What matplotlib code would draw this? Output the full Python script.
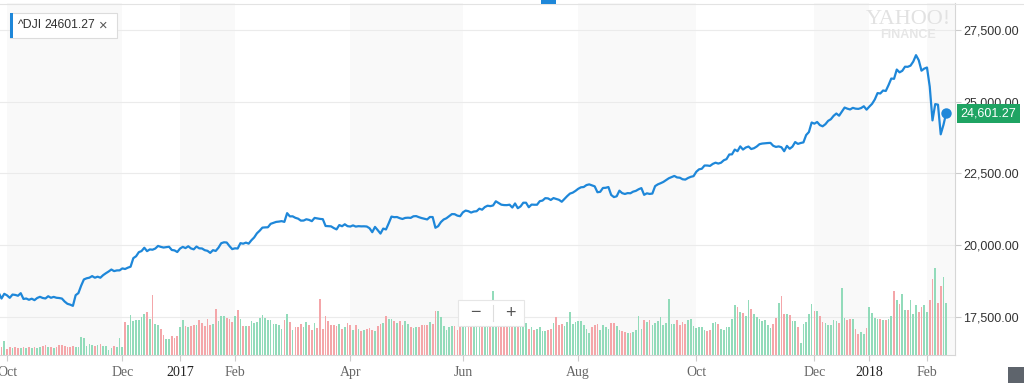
import numpy as np
import pandas as pd
import matplotlib
matplotlib.use("Agg")
import matplotlib.pyplot as plt
from matplotlib.patches import Rectangle
from matplotlib.lines import Line2D
from matplotlib.transforms import blended_transform_factory

plt.rcParams["font.family"] = ["Liberation Sans", "DejaVu Sans"]

# NYSE holidays inside the shown range
holidays = ["2016-11-24", "2016-12-26", "2017-01-02", "2017-01-16", "2017-02-20",
            "2017-04-14", "2017-05-29", "2017-07-04", "2017-09-04", "2017-11-23",
            "2017-12-25", "2018-01-01", "2018-01-15"]

# ^DJI daily close, 2016-09-28 .. 2018-02-12
closes = [
    18339, 18143, 18308,
    18254, 18168, 18281, 18269, 18240, 18329, 18128, 18144, 18099, 18138,
    18087, 18162, 18203, 18162, 18145, 18223, 18169, 18200, 18170, 18161, 18142,
    18037, 17960, 17931, 17888, 18260, 18332, 18590, 18808, 18848, 18869,
    18924, 18868, 18904, 18868, 18957, 19024, 19084, 19153, 19098, 19122, 19124,
    19192, 19171, 19217, 19252, 19549, 19615, 19757, 19797, 19912, 19793,
    19853, 19843, 19884, 19975, 19942, 19919, 19934, 19946, 19834, 19819, 19763,
    19882, 19942, 19899, 19964, 19887, 19856, 19954, 19891, 19886, 19827,
    19804, 19732, 19827, 19800, 19913, 20069, 20101, 20094, 19971, 19864,
    19891, 19885, 20071, 20053, 20090, 20054, 20173, 20269, 20413, 20504,
    20612, 20620, 20624, 20744, 20776, 20811, 20822, 20838, 20812,
    21116, 21003, 21006, 20954, 20924, 20856, 20858, 20903, 20881, 20837,
    20950, 20934, 20915, 20906, 20669, 20661, 20656, 20597, 20551, 20701, 20660, 20729, 20663,
    20650, 20690, 20648, 20663, 20656, 20658, 20651, 20592, 20453, 20637,
    20524, 20405, 20579, 20548, 20764, 20996, 20976, 20981, 20941,
    20913, 20950, 20958, 20951, 21007, 21013, 20975, 20944, 20919, 20897,
    20982, 20980, 20607, 20663, 20805, 20895, 20938, 21012, 21083, 21080, 21029, 21009,
    21144, 21206, 21184, 21136, 21173, 21183, 21272, 21236, 21328, 21375,
    21360, 21384, 21529, 21468, 21411, 21397, 21395, 21410, 21311, 21454, 21288, 21350,
    21479, 21479, 21321, 21414, 21409, 21409, 21533, 21554, 21638, 21630,
    21575, 21641, 21612, 21580, 21513, 21613, 21711, 21797, 21830, 21891,
    21964, 22016, 22026, 22093, 22118, 22085, 22049, 21844, 21858, 21993,
    21999, 22025, 21750, 21675, 21703, 21899, 21813, 21784, 21814, 21808, 21865, 21892, 21948,
    21988, 21753, 21807, 21785, 21798, 22057, 22119, 22158, 22203, 22268,
    22331, 22370, 22412, 22359, 22350, 22296, 22284, 22341, 22381, 22405,
    22557, 22642, 22662, 22775, 22774, 22761, 22831, 22873, 22842, 22872,
    22957, 22997, 23158, 23164, 23329, 23274, 23441, 23330, 23401, 23435, 23349, 23377,
    23436, 23517, 23539, 23549, 23557, 23563, 23462, 23422, 23440, 23410,
    23272, 23458, 23358, 23431, 23591, 23527, 23558, 23580, 23836, 23940, 24272,
    24232, 24290, 24181, 24140, 24212, 24329, 24387, 24505, 24585, 24509,
    24652, 24792, 24754, 24726, 24782, 24754, 24746, 24775, 24838, 24719,
    24825, 24922, 25075, 25296, 25283, 25386, 25370, 25575, 25803, 25793,
    26116, 26018, 26072, 26215, 26211, 26252, 26393, 26617, 26440, 26077, 26149,
    26187, 25521, 24346, 24913, 24893, 23861, 24191, 24601.27,
]

# volume, millions
volumes = [
    80, 80, 140,
    60, 80, 70, 80, 70, 70, 80, 70, 80, 70, 80, 70, 80, 90, 100, 80, 80, 70, 80, 100,
    100, 90, 80, 80, 90, 80, 80, 180, 170, 90, 110, 100, 90, 100, 110, 90, 90, 50, 70, 90,
    80, 170,
    80, 330, 300, 400, 340, 350, 350, 380, 410, 430, 360, 600, 310, 300, 260, 200, 160,
    160, 190, 170, 190, 280, 350, 290, 280, 290, 300, 300, 350, 320, 290, 360, 300, 310,
    460, 340, 390, 390, 370, 360, 330, 390, 450,
    360, 290, 290, 290, 340, 320, 330, 370, 400, 370, 350, 350, 310, 310, 300, 260, 350,
    410, 330, 250, 280, 280, 310, 280, 330, 300, 250, 320, 270, 560, 260, 390, 340, 300,
    300, 290, 310, 260, 280, 320, 300, 250, 300, 260, 240, 250, 260, 270, 250, 240, 290,
    310, 320, 390, 360, 360, 340, 320, 340, 300, 340, 310, 280, 270, 280, 280, 300, 300,
    300, 330, 310, 440, 440, 380, 290, 250, 280, 290, 290, 250, 280, 320, 300, 340, 330,
    360, 310, 350,
    550, 340, 330, 360, 640, 350, 320, 330, 360, 310, 340, 300, 330, 350, 320, 300,
    320, 260, 280, 250, 260, 280, 240, 240, 250, 260, 320, 380, 300, 310, 290, 330, 430,
    310, 330, 340, 340, 300, 260, 220, 280, 300, 310, 250, 300, 280, 260, 320, 320, 290,
    250, 240, 230, 220, 220, 230, 250, 390, 260, 350, 330, 350, 300, 320, 340, 380, 300,
    320, 560, 310, 310, 350, 300, 330, 310, 350, 360, 290, 270, 280, 280, 250, 240, 250,
    320, 330, 310,
    260, 250, 280, 280, 360, 500, 480, 430, 420, 390, 550, 460, 410, 380, 360, 340, 350,
    300, 270, 310, 370, 520, 590, 410, 410, 400, 340, 340, 280, 120, 310, 330, 410, 510,
    440, 440, 390, 330, 320, 300, 300, 350, 340, 320, 670, 370, 350, 360, 360, 260, 210,
    230, 210, 270, 480, 420, 370, 360, 360, 350, 350, 360, 390, 640, 550, 510, 610, 450,
    450, 550, 410, 500, 430, 480, 500, 430, 550, 760, 870, 520, 690, 780, 520,
]

tick_months = ["2016-10", "2016-12", "2017-01", "2017-02", "2017-04", "2017-06",
               "2017-08", "2017-10", "2017-12", "2018-01", "2018-02"]
tick_labels = ["Oct", "Dec", "2017", "Feb", "Apr", "Jun", "Aug", "Oct", "Dec", "2018", "Feb"]
price_ticks = [17500, 20000, 22500, 25000, 27500]

dates = pd.bdate_range("2016-09-28", "2018-02-12").drop(pd.to_datetime(holidays))
assert len(dates) == len(closes) == len(volumes), (len(dates), len(closes), len(volumes))
pos = np.arange(len(dates))
closes = np.array(closes, dtype=float)
volumes = np.array(volumes, dtype=float)
up = np.r_[True, closes[1:] >= closes[:-1]]
bar_colors = np.where(up, "#92dbba", "#f4a6a9")

ym = np.array(dates.strftime("%Y-%m"))
tick_pos = [int(np.argmax(ym == m)) for m in tick_months]

BLUE = "#1e87d9"
W, H = 1024, 383
fig = plt.figure(figsize=(W / 100, H / 100), dpi=100)


def fx(px):
    return px / W


def fy(py):
    return 1 - py / H


rect = [0, fy(355), fx(955), (355 - 3) / H]
xlim = (0.45, 348.2)
ylim = (16177, 28433)

# back layer: month bands, grid, volume
axv = fig.add_axes(rect)
axv.set_xlim(*xlim)
axv.set_ylim(0, 3520)
axv.axis("off")
edges = tick_pos + [xlim[1]]
for k in range(0, len(tick_pos), 2):
    axv.axvspan(edges[k], edges[k + 1], color="#f9f9f9", lw=0, zorder=0)

ax = fig.add_axes(rect)
ax.set_xlim(*xlim)
ax.set_ylim(*ylim)
ax.patch.set_visible(False)

grid_tr = blended_transform_factory(axv.transAxes, ax.transData)
for v in price_ticks:
    axv.plot([0, 1], [v, v], transform=grid_tr, color="#ebebeb", lw=0.8, zorder=1)

axv.bar(pos, volumes, width=0.62, color=bar_colors, lw=0, zorder=2)

# price line
ax.plot(pos, closes, color=BLUE, lw=1.6, solid_joinstyle="round", zorder=3)
ax.plot(pos[-1], closes[-1], "o", ms=6.5, color=BLUE, zorder=4)

for s in ["top", "left"]:
    ax.spines[s].set_visible(False)
for s in ["right", "bottom"]:
    ax.spines[s].set_color("#d6d6d6")
    ax.spines[s].set_linewidth(0.8)

ax.yaxis.tick_right()
ax.set_yticks(price_ticks)
ax.set_yticklabels([f"{v:,.2f}" for v in price_ticks])
ax.tick_params(axis="y", direction="out", length=4, width=0.8, color="#cccccc",
               pad=2, labelsize=9, labelcolor="#333333")
ax.set_xticks(tick_pos)
ax.set_xticklabels(tick_labels, family="Liberation Serif", fontsize=10)
ax.tick_params(axis="x", direction="out", length=4, width=0.8, color="#cccccc", pad=4)
for lbl, t in zip(ax.get_xticklabels(), tick_labels):
    lbl.set_color("#222222" if t.isdigit() else "#666666")

# last price tag
tag_tr = blended_transform_factory(ax.transAxes, ax.transData)
ax.annotate(f"{closes[-1]:,.2f}", xy=(1, closes[-1]), xycoords=tag_tr,
            xytext=(4, 0), textcoords="offset points", ha="left", va="center",
            fontsize=9, color="white", annotation_clip=False, zorder=6,
            bbox=dict(boxstyle="square,pad=0.28", fc="#1fa463", ec="none"))

# legend chip
fig.patches.append(Rectangle((fx(11), fy(39)), fx(107), 25 / H, transform=fig.transFigure,
                             fc="#e9e9e9", ec="none", zorder=5))
fig.patches.append(Rectangle((fx(10), fy(38)), fx(107), 25 / H, transform=fig.transFigure,
                             fc="white", ec="#dcdcdc", lw=0.8, zorder=6))
fig.patches.append(Rectangle((fx(10), fy(38)), fx(2.5), 25 / H, transform=fig.transFigure,
                             fc=BLUE, ec="none", zorder=7))
fig.text(fx(18), fy(25.5), "^DJI", va="center", fontsize=8.8, color="#333333", zorder=8)
fig.text(fx(44), fy(25.5), "24601.27", va="center", fontsize=8.8, color="#333333", zorder=8)
fig.text(fx(99), fy(25.5), "×", va="center", fontsize=10.5, color="#555555", zorder=8)

# watermark
fig.text(fx(908), fy(19), "YAHOO!", ha="center", va="center", family="Liberation Serif",
         fontsize=16, color="#e2e2e2", zorder=2)
fig.text(fx(908), fy(35), "FINANCE", ha="center", va="center", fontsize=9,
         weight="bold", color="#e6e6e6", zorder=2)

# zoom control
fig.patches.append(Rectangle((fx(459), fy(327)), fx(66), 26 / H, transform=fig.transFigure,
                             fc="#eeeeee", ec="none", zorder=5))
fig.patches.append(Rectangle((fx(458), fy(326)), fx(66), 26 / H, transform=fig.transFigure,
                             fc="white", ec="#e6e6e6", lw=0.8, zorder=6))
fig.lines.append(Line2D([fx(492.5)] * 2, [fy(305), fy(321)], transform=fig.transFigure,
                        color="#dddddd", lw=0.8, zorder=7))
fig.text(fx(475), fy(313), "−", ha="center", va="center", fontsize=13, color="#555555", zorder=8)
fig.text(fx(510), fy(313), "+", ha="center", va="center", fontsize=13, color="#555555", zorder=8)

# page chrome
fig.lines.append(Line2D([0, 1], [fy(3.5)] * 2, transform=fig.transFigure,
                        color="#e3e3e3", lw=0.8, zorder=5))
fig.patches.append(Rectangle((fx(541), fy(4)), fx(15), 4 / H, transform=fig.transFigure,
                             fc=BLUE, ec="none", zorder=6))
fig.patches.append(Rectangle((fx(1008), 0), fx(16), 16 / H, transform=fig.transFigure,
                             fc="#5e646c", ec="none", zorder=6))

fig.savefig("out.png", dpi=100)
